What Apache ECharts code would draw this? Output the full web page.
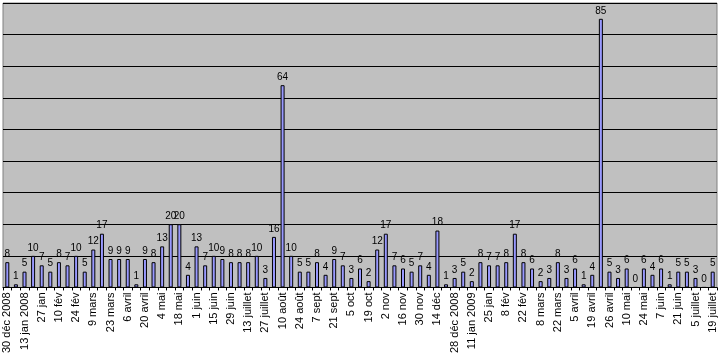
<!DOCTYPE html>
<html>
<head>
<meta charset="utf-8">
<script src="https://cdn.jsdelivr.net/npm/echarts@6/dist/echarts.min.js"></script>
<style>html,body{margin:0;padding:0;background:#fff;}#c{width:722px;height:356px;}</style>
</head>
<body>
<div id="c"></div>
<script>
// Tick labels shown on every other week (index 0, 2, 4, ...)
var tickLabels = ["30 déc 2008","13 jan 2008","27 jan","10 fév","24 fév","9 mars","23 mars","6 avril","20 avril","4 mai","18 mai","1 juin","15 juin","29 juin","13 juillet","27 juillet","10 août","24 août","7 sept","21 sept","5 oct","19 oct","2 nov","16 nov","30 nov","14 déc","28 déc 2008","11 jan 2009","25 jan","8 fév","22 fév","8 mars","22 mars","5 avril","19 avril","26 avril","10 mai","24 mai","7 juin","21 juin","5 juillet","19 juillet"];
var values = [8,1,5,10,7,5,8,7,10,5,12,17,9,9,9,1,9,8,13,20,20,4,13,7,10,9,8,8,8,10,3,16,64,10,5,5,8,4,9,7,3,6,2,12,17,7,6,5,7,4,18,1,3,5,2,8,7,7,8,17,8,6,2,3,8,3,6,1,4,85,5,3,6,0,6,4,6,1,5,5,3,0,5];

var categories = [];
for (var i = 0; i < values.length; i++) {
  categories.push(i % 2 === 0 ? tickLabels[i / 2] : '');
}

var chart = echarts.init(document.getElementById('c'), null, {renderer: 'canvas'});
chart.setOption({
  animation: false,
  backgroundColor: '#ffffff',
  grid: {left: 3, right: 5, top: 3, bottom: 62, show: true, backgroundColor: '#C0C0C0', borderColor: '#808080', borderWidth: 1},
  xAxis: {
    type: 'category',
    data: categories,
    axisLine: {show: true, lineStyle: {color: '#000', width: 1}},
    axisTick: {show: true, interval: 0, length: 3, lineStyle: {color: '#000'}},
    axisLabel: {interval: 0, rotate: 90, margin: 5, fontSize: 11, fontFamily: 'Liberation Sans, Arial, sans-serif', color: '#000'}
  },
  yAxis: {
    type: 'value',
    min: 0, max: 90, interval: 10,
    axisLabel: {show: false},
    axisLine: {show: false},
    axisTick: {show: false},
    splitLine: {show: true, lineStyle: {color: '#000', width: 1}}
  },
  series: [{
    type: 'bar',
    data: values,
    barWidth: 4,
    itemStyle: {color: '#9999FF', borderColor: '#000', borderWidth: 1},
    label: {show: true, position: 'top', distance: 3, fontSize: 10, fontFamily: 'Liberation Sans, Arial, sans-serif', color: '#000'}
  }]
});
</script>
</body>
</html>
